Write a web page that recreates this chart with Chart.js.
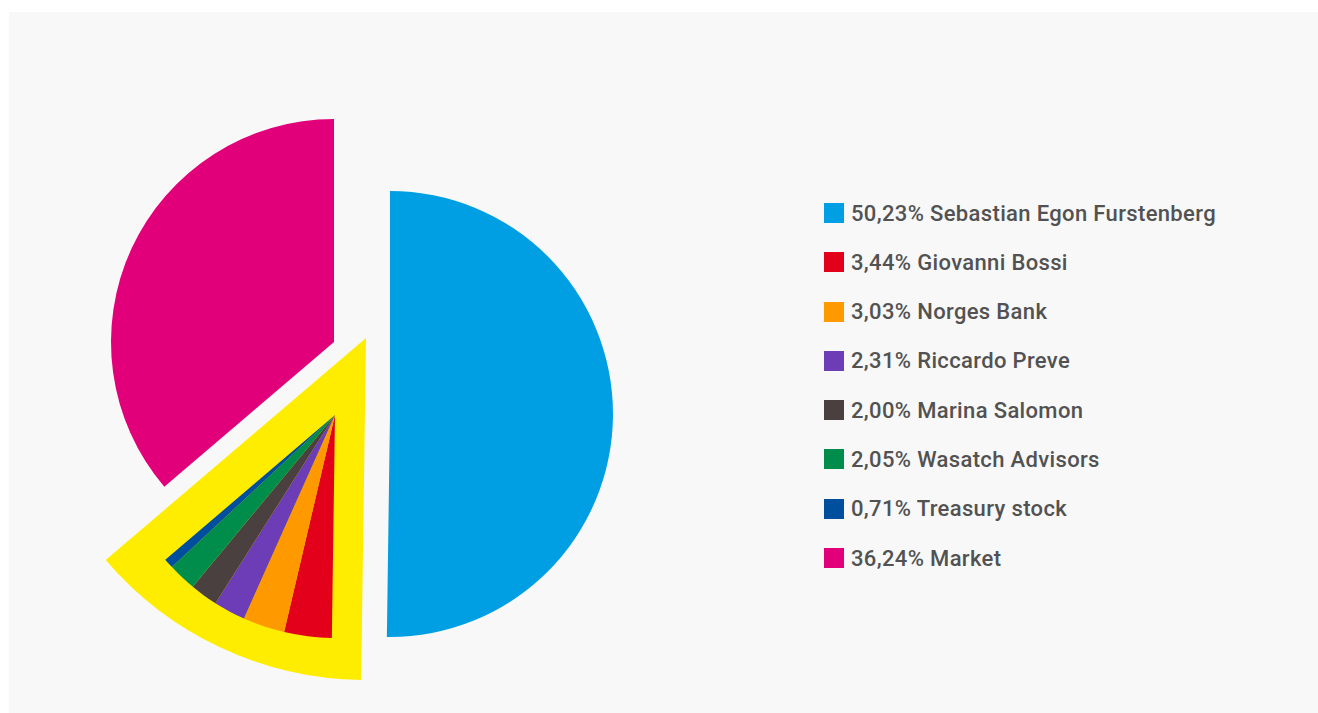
<!DOCTYPE html>
<html>
<head>
<meta charset="utf-8">
<script src="https://cdn.jsdelivr.net/npm/chart.js@4.4.1/dist/chart.umd.min.js"></script>
<style>
  html, body { margin: 0; padding: 0; background: #fff; }
  body { width: 1318px; height: 713px; overflow: hidden; position: relative; font-family: Roboto, "Noto Sans", sans-serif; }
  .panel { position: absolute; left: 9px; top: 12px; width: 1309px; height: 701px; background: #f8f8f8; }
  #pie { position: absolute; left: 0; top: 0; }
  .legend { position: absolute; left: 815px; top: 191px; margin: 0; padding: 0; list-style: none; }
  .legend li { display: flex; align-items: center; height: 20px; margin-bottom: 29.3px; font-size: 22px; letter-spacing: 0.35px; font-weight: 500; color: #525252; white-space: nowrap; }
  .legend .box { width: 20px; height: 20px; margin-right: 7px; flex: none; }
</style>
</head>
<body>
<div class="panel">
  <canvas id="pie" width="760" height="701"></canvas>
  <ul class="legend" id="legend"></ul>
</div>
<script>
// shareholders, clockwise from the top
var holders = ['Sebastian Egon Furstenberg', 'Giovanni Bossi', 'Norges Bank', 'Riccardo Preve',
               'Marina Salomon', 'Wasatch Advisors', 'Treasury stock', 'Market'];
var shares = [50.23, 3.44, 3.03, 2.31, 2.00, 2.05, 0.71, 36.24];
var colors = ['#009fe3', '#e2001a', '#ff9900', '#6c3db6', '#4b4040', '#008d4c', '#004f9f', '#e2007a'];

// the same pie with the small holders grouped (yellow highlight wedge)
var groupLabels = ['Sebastian Egon Furstenberg', 'Minor shareholders', 'Market'];
var groupShares = [50.23, 13.54, 36.24];
var groupColors = ['#009fe3', '#ffed00', '#e2007a'];

// how each wedge is pulled out of the pie: shift in px and radius factor
var detailExplode = [];
var groupExplode = [{dx: 55, dy: -1, r: 1}, {dx: 31, dy: -77, r: 1.534}, {dx: -1, dy: -73, r: 1}];

var explodePlugin = {
  id: 'explode',
  afterDatasetsUpdate: function(chart) {
    var a = chart.chartArea;
    var cx = (a.left + a.right) / 2, cy = (a.top + a.bottom) / 2;
    var R = Math.min(a.right - a.left, a.bottom - a.top) / 2;
    chart.data.datasets.forEach(function(ds, d) {
      var table = d === 0 ? detailExplode : groupExplode;
      chart.getDatasetMeta(d).data.forEach(function(arc, i) {
        var s = table[i] || {dx: 0, dy: 0, r: 1};
        arc.x = cx + s.dx;
        arc.y = cy + s.dy;
        arc.innerRadius = 0;
        arc.outerRadius = R * s.r;
      });
    });
  }
};

// only the small holders are visible in the detail ring
var detailColors = colors.map(function(c, i) {
  return (i === 0 || i === holders.length - 1) ? 'rgba(0,0,0,0)' : c;
});

var ctx = document.getElementById('pie').getContext('2d');
var chart = new Chart(ctx, {
  type: 'pie',
  data: {
    labels: holders,
    datasets: [{
      label: 'detail',
      data: shares,
      backgroundColor: detailColors,
      borderWidth: 0
    }, {
      label: 'group',
      data: groupShares,
      backgroundColor: groupColors,
      borderWidth: 0
    }]
  },
  options: {
    responsive: false,
    animation: false,
    devicePixelRatio: 1,
    events: [],
    layout: { padding: { left: 103, right: 211, top: 180, bottom: 75 } },
    plugins: {
      legend: { display: false },
      tooltip: { enabled: false }
    }
  },
  plugins: [explodePlugin]
});

// legend
var ul = document.getElementById('legend');
holders.forEach(function(name, i) {
  var li = document.createElement('li');
  var box = document.createElement('span');
  box.className = 'box';
  box.style.background = colors[i];
  li.appendChild(box);
  li.appendChild(document.createTextNode(shares[i].toFixed(2).replace('.', ',') + '% ' + name));
  ul.appendChild(li);
});
</script>
</body>
</html>
